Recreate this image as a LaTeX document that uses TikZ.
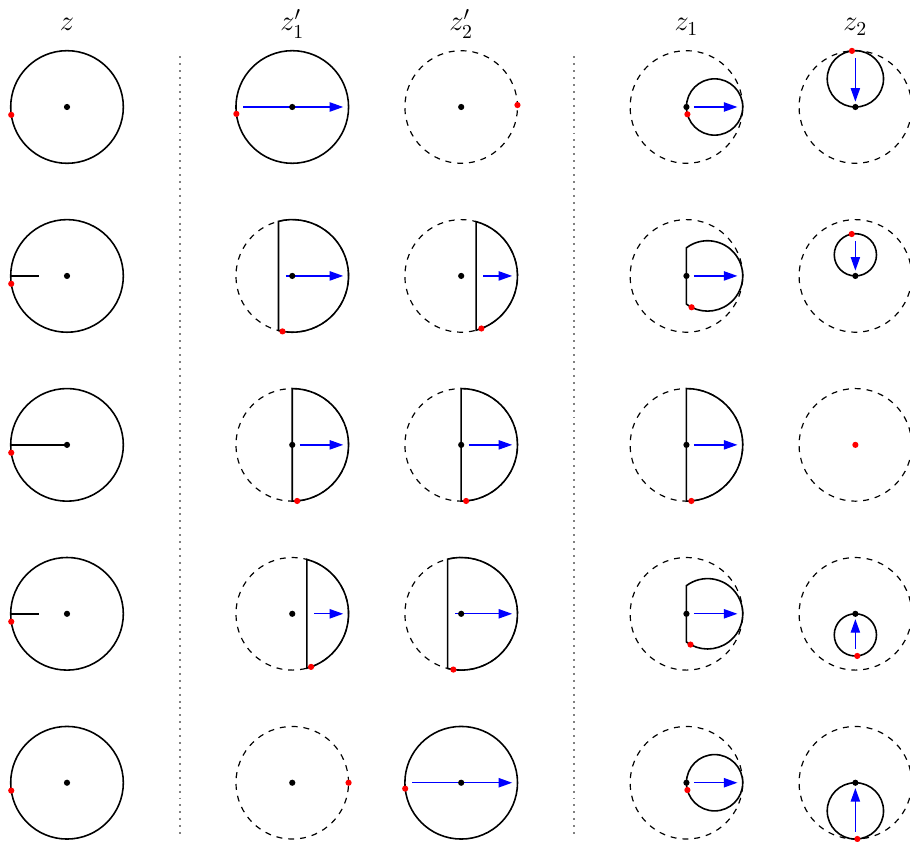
\documentclass[tikz,border=0pt]{standalone}
\usetikzlibrary{arrows.meta,calc}
\begin{document}
\begin{tikzpicture}[
  outl/.style={line width=0.8pt},
  dsh/.style={dashed, line width=0.6pt},
  arr/.style={blue, line width=0.65pt, -{Triangle[length=0.24cm,width=0.165cm]}, shorten <=0.13cm, shorten >=0.095cm},
  sep/.style={gray, line width=1pt, dash pattern=on 1pt off 2.5pt},
  lab/.style={anchor=base, font=\Large},
]
\useasboundingbox (-1.19,-13.05) rectangle (14.97,1.90);
\def\dr{0.055}
% labels
\node[lab] (lz)  at (0,1.35)  {$z$};
\node[lab] (lp1) at (4,1.35)  {$z'_1$};
\node[lab] (lp2) at (7,1.35)  {$z'_2$};
\node[lab] (l1)  at (11,1.35) {$z_1$};
\node[lab] (l2)  at (14,1.35) {$z_2$};
% separators
\draw[sep] (2,0.9) -- (2,-13);
\draw[sep] (9,0.9) -- (9,-13);

% ===== column z =====
\foreach \y/\s in {0/0, -3/0.5, -6/1, -9/0.5, -12/0} {
  \begin{scope}[shift={(0,\y)}]
    \draw[outl] (0,0) circle (1);
    \ifdim\s pt>0pt \draw[outl] (-1,0) -- (-1+\s,0); \fi
    \fill (0,0) circle (\dr);
    \fill[red] (188:1) circle (\dr);
  \end{scope}
}

% ===== column z'_1 =====
\begin{scope}[shift={(4,0)}]
  \draw[outl] (0,0) circle (1);
  \draw[arr] (-1,0) -- (1,0);
  \fill (0,0) circle (\dr);
  \fill[red] (187:1) circle (\dr);
\end{scope}
\begin{scope}[shift={(4,-3)}]
  \draw[dsh] (0,0) circle (1);
  \pgfmathsetmacro{\a}{acos(-0.245)}
  \draw[outl] (\a:1) arc[start angle=\a, end angle=-\a, radius=1] -- cycle;
  \draw[arr] (-0.245,0) -- (1,0);
  \fill (0,0) circle (\dr);
  \fill[red] (-100:1) circle (\dr);
\end{scope}
\begin{scope}[shift={(4,-6)}]
  \draw[dsh] (0,0) circle (1);
  \draw[outl] (90:1) arc[start angle=90, end angle=-90, radius=1] -- cycle;
  \draw[arr] (0,0) -- (1,0);
  \fill (0,0) circle (\dr);
  \fill[red] (-85:1) circle (\dr);
\end{scope}
\begin{scope}[shift={(4,-9)}]
  \draw[dsh] (0,0) circle (1);
  \pgfmathsetmacro{\a}{acos(0.26)}
  \draw[outl] (\a:1) arc[start angle=\a, end angle=-\a, radius=1] -- cycle;
  \draw[arr] (0.26,0) -- (1,0);
  \fill (0,0) circle (\dr);
  \fill[red] (-70.5:1) circle (\dr);
\end{scope}
\begin{scope}[shift={(4,-12)}]
  \draw[dsh] (0,0) circle (1);
  \fill (0,0) circle (\dr);
  \fill[red] (0:1) circle (\dr);
\end{scope}

% ===== column z'_2 =====
\begin{scope}[shift={(7,0)}]
  \draw[dsh] (0,0) circle (1);
  \fill (0,0) circle (\dr);
  \fill[red] (2:1) circle (\dr);
\end{scope}
\begin{scope}[shift={(7,-3)}]
  \draw[dsh] (0,0) circle (1);
  \pgfmathsetmacro{\a}{acos(0.265)}
  \draw[outl] (\a:1) arc[start angle=\a, end angle=-\a, radius=1] -- cycle;
  \draw[arr] (0.265,0) -- (1,0);
  \fill (0,0) circle (\dr);
  \fill[red] (-69:1) circle (\dr);
\end{scope}
\begin{scope}[shift={(7,-6)}]
  \draw[dsh] (0,0) circle (1);
  \draw[outl] (90:1) arc[start angle=90, end angle=-90, radius=1] -- cycle;
  \draw[arr] (0,0) -- (1,0);
  \fill (0,0) circle (\dr);
  \fill[red] (-85:1) circle (\dr);
\end{scope}
\begin{scope}[shift={(7,-9)}]
  \draw[dsh] (0,0) circle (1);
  \pgfmathsetmacro{\a}{acos(-0.24)}
  \draw[outl] (\a:1) arc[start angle=\a, end angle=-\a, radius=1] -- cycle;
  \draw[arr] (-0.24,0) -- (1,0);
  \fill (0,0) circle (\dr);
  \fill[red] (-98:1) circle (\dr);
\end{scope}
\begin{scope}[shift={(7,-12)}]
  \draw[outl] (0,0) circle (1);
  \draw[arr] (-1,0) -- (1,0);
  \fill (0,0) circle (\dr);
  \fill[red] (186:1) circle (\dr);
\end{scope}

% ===== column z_1 =====
\foreach \y in {0,-12} {
  \begin{scope}[shift={(11,\y)}]
    \draw[dsh] (0,0) circle (1);
    \draw[outl] (0.5,0) circle (0.5);
    \draw[arr] (0,0) -- (1,0);
    \fill (0,0) circle (\dr);
    \fill[red] (0.5,0) ++(195:0.5) circle (\dr);
  \end{scope}
}
\foreach \y/\r in {-3/243, -9/241} {
  \begin{scope}[shift={(11,\y)}]
    \draw[dsh] (0,0) circle (1);
    \draw[outl] (0,0.5) arc[start angle=126.87, end angle=-126.87, radius=0.625] -- cycle;
    \draw[arr] (0,0) -- (1,0);
    \fill (0,0) circle (\dr);
    \fill[red] (0.375,0) ++(\r:0.625) circle (\dr);
  \end{scope}
}
\begin{scope}[shift={(11,-6)}]
  \draw[dsh] (0,0) circle (1);
  \draw[outl] (90:1) arc[start angle=90, end angle=-90, radius=1] -- cycle;
  \draw[arr] (0,0) -- (1,0);
  \fill (0,0) circle (\dr);
  \fill[red] (-85:1) circle (\dr);
\end{scope}

% ===== column z_2 =====
\begin{scope}[shift={(14,0)}]
  \draw[dsh] (0,0) circle (1);
  \draw[outl] (0,0.5) circle (0.5);
  \draw[arr] (0,1) -- (0,0);
  \fill (0,0) circle (\dr);
  \fill[red] (0,0.5) ++(97:0.5) circle (\dr);
\end{scope}
\begin{scope}[shift={(14,-3)}]
  \draw[dsh] (0,0) circle (1);
  \draw[outl] (0,0.375) circle (0.375);
  \draw[arr] (0,0.75) -- (0,0);
  \fill (0,0) circle (\dr);
  \fill[red] (0,0.375) ++(100:0.375) circle (\dr);
\end{scope}
\begin{scope}[shift={(14,-6)}]
  \draw[dsh] (0,0) circle (1);
  \fill[red] (0,0) circle (\dr);
\end{scope}
\begin{scope}[shift={(14,-9)}]
  \draw[dsh] (0,0) circle (1);
  \draw[outl] (0,-0.375) circle (0.375);
  \draw[arr] (0,-0.75) -- (0,0);
  \fill (0,0) circle (\dr);
  \fill[red] (0,-0.375) ++(-85:0.375) circle (\dr);
\end{scope}
\begin{scope}[shift={(14,-12)}]
  \draw[dsh] (0,0) circle (1);
  \draw[outl] (0,-0.5) circle (0.5);
  \draw[arr] (0,-1) -- (0,0);
  \fill (0,0) circle (\dr);
  \fill[red] (0,-0.5) ++(-86:0.5) circle (\dr);
\end{scope}
\end{tikzpicture}
\end{document}
